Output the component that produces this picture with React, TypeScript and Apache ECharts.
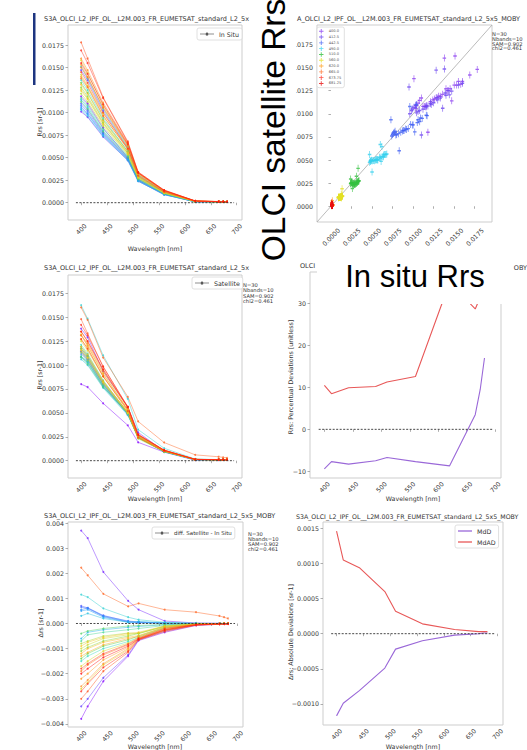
import React, { useEffect, useRef } from "react";
import * as echarts from "echarts";

// ---------------- DATA ----------------
const WAVELENGTHS = [400, 412.5, 442.5, 490, 510, 560, 620, 665, 673.75, 681.25];
const BAND_LABELS = ["400.0", "412.5", "442.5", "490.0", "510.0", "560.0", "620.0", "665.0", "673.75", "681.25"];
const WL_TICKS = [400, 450, 500, 550, 600, 650, 700];
const RRS_TICKS = [0, 0.0025, 0.005, 0.0075, 0.01, 0.0125, 0.015, 0.0175];
const PCT_TICKS = [-10, 0, 10, 20, 30];
const DIFF_TICKS = [-0.004, -0.003, -0.002, -0.001, 0, 0.001, 0.002, 0.003, 0.004];
const ABS_TICKS = [-0.001, -0.0005, 0, 0.0005, 0.001, 0.0015];

// in situ Rrs [sr-1], one row per match-up (N=30), one column per band
const IN_SITU: number[][] = [
  [0.0118, 0.0110, 0.0083, 0.0050, 0.0026, 0.00125, 0.00013, 0.0001, 0.0001, 0.0001],
  [0.0101, 0.0095, 0.0073, 0.0047, 0.0024, 0.0009, 0.0001, 0.0001, 0.0001, 0.0001],
  [0.0147, 0.0136, 0.0102, 0.0061, 0.0031, 0.00125, 0.00017, 0.00011, 0.0001, 0.0001],
  [0.0110, 0.0103, 0.0078, 0.0049, 0.0025, 0.00095, 0.00011, 0.0001, 0.0001, 0.0001],
  [0.0108, 0.0101, 0.0077, 0.0049, 0.0025, 0.00095, 0.00011, 0.0001, 0.0001, 0.0001],
  [0.0106, 0.0099, 0.0076, 0.0048, 0.0025, 0.00095, 0.00011, 0.0001, 0.0001, 0.0001],
  [0.0104, 0.0098, 0.0075, 0.0048, 0.0024, 0.0009, 0.00011, 0.0001, 0.0001, 0.0001],
  [0.0114, 0.0106, 0.0080, 0.0051, 0.0026, 0.0010, 0.00012, 0.0001, 0.0001, 0.0001],
  [0.0103, 0.0096, 0.0074, 0.0047, 0.0024, 0.0009, 0.0001, 0.0001, 0.0001, 0.0001],
  [0.0151, 0.0138, 0.0104, 0.0062, 0.0031, 0.00125, 0.00017, 0.00011, 0.0001, 0.0001],
  [0.0136, 0.0125, 0.0094, 0.0057, 0.0029, 0.00115, 0.00015, 0.0001, 0.0001, 0.0001],
  [0.0116, 0.0108, 0.0082, 0.0052, 0.0027, 0.00105, 0.00013, 0.0001, 0.0001, 0.0001],
  [0.0112, 0.0104, 0.0079, 0.0050, 0.0026, 0.0010, 0.00012, 0.0001, 0.0001, 0.0001],
  [0.0133, 0.0122, 0.0092, 0.0057, 0.0029, 0.00115, 0.00015, 0.0001, 0.0001, 0.0001],
  [0.0128, 0.0118, 0.0089, 0.0055, 0.0028, 0.0011, 0.00014, 0.0001, 0.0001, 0.0001],
  [0.0121, 0.0112, 0.0085, 0.0053, 0.0027, 0.00105, 0.00013, 0.0001, 0.0001, 0.0001],
  [0.0126, 0.0116, 0.0088, 0.0055, 0.0028, 0.0011, 0.00014, 0.0001, 0.0001, 0.0001],
  [0.0142, 0.0130, 0.0099, 0.0061, 0.0031, 0.00125, 0.00017, 0.00011, 0.0001, 0.0001],
  [0.0158, 0.0144, 0.0108, 0.0064, 0.0032, 0.0013, 0.00018, 0.00012, 0.00011, 0.00011],
  [0.0124, 0.0115, 0.0087, 0.0054, 0.0028, 0.0011, 0.00015, 0.0001, 0.0001, 0.0001],
  [0.0131, 0.0121, 0.0091, 0.0056, 0.0029, 0.00115, 0.00016, 0.00011, 0.0001, 0.0001],
  [0.0140, 0.0129, 0.0097, 0.0059, 0.0030, 0.0012, 0.00016, 0.00011, 0.0001, 0.0001],
  [0.0153, 0.0140, 0.0105, 0.0063, 0.0032, 0.0013, 0.00018, 0.00012, 0.00011, 0.0001],
  [0.0160, 0.0147, 0.0111, 0.0066, 0.0033, 0.00135, 0.00019, 0.00012, 0.00011, 0.00011],
  [0.0150, 0.0139, 0.0106, 0.0064, 0.0033, 0.0013, 0.00018, 0.00012, 0.00011, 0.0001],
  [0.0138, 0.0128, 0.0096, 0.0060, 0.0033, 0.00135, 0.00016, 0.00011, 0.0001, 0.0001],
  [0.0178, 0.0160, 0.0117, 0.0068, 0.0034, 0.0014, 0.0002, 0.00013, 0.00012, 0.00012],
  [0.0145, 0.0133, 0.0100, 0.0060, 0.0030, 0.0012, 0.00017, 0.00011, 0.0001, 0.0001],
  [0.0169, 0.0155, 0.0116, 0.0067, 0.0034, 0.0014, 0.0002, 0.00013, 0.00012, 0.00011],
  [0.0155, 0.0143, 0.0109, 0.0065, 0.0033, 0.00135, 0.00019, 0.00012, 0.00011, 0.0001],
];

// satellite - in situ differences [sr-1], same rows
const DIFF: number[][] = [
  [-0.0038, -0.0033, -0.0023, -0.0013, -0.00068, -0.00035, -0.00008, -0.00003, -0.00002, -0.00002],
  [0.0037, 0.0034, 0.00205, 0.0009, 0.00055, 0.0001, 0.00002, 0.00001, 0, 0],
  [-0.0033, -0.003, -0.00216, -0.00125, -0.00065, -0.0003, -0.00006, -0.00002, -0.00002, -0.00001],
  [0.0007, 0.00062, 0.00032, 0.00008, 0.00005, 0.00002, 0, 0, 0, 0],
  [0.00065, 0.0006, 0.00028, 0.00006, 0.00004, 0.00001, 0, 0, 0, 0],
  [0.00055, 0.00062, 0.0003, 0.0001, 0.00006, 0.00002, 0, 0, 0, 0],
  [0.0005, 0.00055, 0.00025, 0.00005, 0.00003, 0.00001, 0, 0, 0, 0],
  [-0.0006, -0.00035, -0.00025, -0.00015, -0.00012, -0.00005, -0.00001, 0, 0, 0],
  [0.0003, 0.0004, 0.0002, 0.00005, 0.00008, 0.00002, 0, 0, 0, 0],
  [0.00115, 0.00105, 0.0006, 0.00025, 0.00015, 0.00005, 0.00001, 0, 0, 0],
  [-0.0015, -0.0013, -0.001, -0.00072, -0.00055, -0.00018, -0.00003, -0.00001, -0.00001, 0],
  [-0.0007, -0.00045, -0.00035, -0.00025, -0.0002, -0.00008, -0.00001, 0, 0, 0],
  [-0.0004, -0.0003, -0.0002, -0.0001, -0.00008, -0.00004, -0.00001, 0, 0, 0],
  [-0.0014, -0.0012, -0.0009, -0.00065, -0.0005, -0.00015, -0.00003, -0.00001, 0, 0],
  [-0.0011, -0.00095, -0.0007, -0.0005, -0.0004, -0.00012, -0.00002, -0.00001, 0, 0],
  [-0.0008, -0.0007, -0.0005, -0.00038, -0.0004, -0.0001, -0.00002, 0, 0, 0],
  [-0.001, -0.00085, -0.0006, -0.00045, -0.00038, -0.00012, -0.00002, 0, 0, 0],
  [-0.0017, -0.0015, -0.0011, -0.00078, -0.00055, -0.00018, -0.00004, -0.00001, -0.00001, -0.00001],
  [-0.0026, -0.00235, -0.00165, -0.00105, -0.00063, -0.00027, -0.00005, -0.00002, -0.00001, -0.00001],
  [-0.0009, -0.00075, -0.00055, -0.0004, -0.00035, -0.0001, -0.00002, 0, 0, 0],
  [-0.0012, -0.001, -0.00075, -0.00055, -0.00048, -0.00014, -0.00003, -0.00001, 0, 0],
  [-0.0013, -0.00115, -0.00085, -0.0006, -0.00052, -0.00016, -0.00003, -0.00001, 0, 0],
  [-0.0022, -0.002, -0.00145, -0.00095, -0.0006, -0.00024, -0.00005, -0.00002, -0.00001, -0.00001],
  [-0.0025, -0.00225, -0.0016, -0.001, -0.00062, -0.00026, -0.00005, -0.00002, -0.00001, -0.00001],
  [-0.0019, -0.00165, -0.00125, -0.00085, -0.0006, -0.00022, -0.00004, -0.00001, -0.00001, -0.00001],
  [0.00222, 0.00192, 0.00118, 0.00068, 0.0008, 0.00055, 0.00045, 0.0003, 0.00025, 0.0002],
  [-0.003, -0.0027, -0.0019, -0.00115, -0.00066, -0.00032, -0.00007, -0.00003, -0.00002, -0.00002],
  [-0.0018, -0.0016, -0.0012, -0.00082, -0.00058, -0.0002, -0.00004, -0.00001, -0.00001, -0.00001],
  [-0.0027, -0.0024, -0.00175, -0.0011, -0.00064, -0.00028, -0.00006, -0.00002, -0.00002, -0.00001],
  [-0.002, -0.0018, -0.00135, -0.0009, -0.00062, -0.00025, -0.00005, -0.00002, -0.00001, -0.00001],
];

// statistics per band
const MDD_PCT = [-9.4, -7.7, -8.3, -7.5, -6.7, -7.7, -8.7, 3.5, 9.5, 17.0];
const MDAD_PCT = [10.5, 8.5, 9.9, 10.2, 11.3, 12.6, 35.0, 28.7, 31.5, 36.0];
const MDD_ABS = [-0.00117, -0.00099, -0.00081, -0.00049, -0.00022, -0.0001, -0.00002, 0, 0.00001, 0.00001];
const MDAD_ABS = [0.00146, 0.00105, 0.00094, 0.0006, 0.00032, 0.00014, 0.00006, 0.00003, 0.00003, 0.00003];

const TITLE_CLIPPED = "S3A_OLCI_L2_IPF_OL__L2M.003_FR_EUMETSAT_standard_L2_5x";
const TITLE_FULL = "S3A_OLCI_L2_IPF_OL__L2M.003_FR_EUMETSAT_standard_L2_5x5_MOBY";
const STATS_TEXT = "N=30\nNbands=10\nSAM=0.902\nchi2=0.461";

// ---------------- STYLE ----------------
const FONT = "DejaVu Sans";
const BIG_FONT = "Liberation Sans";
const BAND_COLORS = ["#8a3cf0", "#6a44f0", "#3d5cf2", "#34d0ee", "#34c040", "#e4e024", "#ffa020", "#ff6a20", "#ff3020", "#e81010"];
const STOPS = ["#8000ff", "#4a5cff", "#18a8f4", "#30d8c8", "#5cd040", "#cfdc28", "#f8c020", "#ff9020", "#ff5018", "#ff1010"];
const MDD_COLOR = "#9a68d8";
const MDAD_COLOR = "#e85858";
const PLUS = "path://M4,0h2v4h4v2h-4v4h-2v-4h-4v-2h4z";
const LINE_DOT_ICON = "path://M0,1.2h14v0.6h-14z M5.5,1.5a1.5,1.5 0 1,0 3,0a1.5,1.5 0 1,0 -3,0z";
const LINE_ICON = "path://M0,0h14v1.3h-14z";

function hexToRgb(h: string) {
  return [1, 3, 5].map((i) => parseInt(h.slice(i, i + 2), 16));
}
function paletteColor(t: number) {
  const p = t * (STOPS.length - 1);
  const i = Math.min(STOPS.length - 2, Math.floor(p));
  const f = p - i;
  const a = hexToRgb(STOPS[i]);
  const b = hexToRgb(STOPS[i + 1]);
  const c = a.map((v, k) => Math.round(v + (b[k] - v) * f));
  return `rgb(${c[0]},${c[1]},${c[2]})`;
}

const fmt = (d: number) => (v: number) => (v < 0 ? "\u2212" : "") + Math.abs(v).toFixed(d);
const small = { fontFamily: FONT, fontSize: 6.3, color: "#3a3a3a" };
const tick = { show: true, length: 2.5, lineStyle: { color: "#999", width: 0.8 } };

function wlAxis(gridIndex: number) {
  return {
    type: "value", gridIndex, min: 374.75, max: 710.25,
    axisLine: { show: false }, splitLine: { show: false },
    axisTick: { ...tick, customValues: WL_TICKS },
    axisLabel: { customValues: WL_TICKS, rotate: 45, align: "center", verticalAlign: "middle", margin: 9, ...small, formatter: (v: number) => String(v) },
  };
}
function valAxis(gridIndex: number, min: number, max: number, ticks: number[], dec: number, extra: any = {}) {
  return {
    type: "value", gridIndex, min, max,
    axisLine: { show: false }, splitLine: { show: false },
    axisTick: { ...tick, customValues: ticks },
    axisLabel: { customValues: ticks, margin: 4, ...small, formatter: fmt(dec), ...extra },
  };
}

function buildOption() {
  const grids = [
    { left: 68, top: 25, width: 174, height: 195 },
    { left: 317, top: 25, width: 175, height: 197 },
    { left: 68, top: 275, width: 174, height: 203 },
    { left: 310, top: 272, width: 191, height: 206 },
    { left: 68, top: 522, width: 175, height: 205 },
    { left: 323, top: 522, width: 180, height: 203 },
  ].map((g) => ({ ...g, show: true, borderColor: "#cdcdcd", borderWidth: 1, backgroundColor: "transparent" }));

  const xAxis = [
    wlAxis(0),
    valAxis(1, -0.0017, 0.0196, RRS_TICKS, 4, { rotate: 45, align: "center", verticalAlign: "middle", margin: 15 }),
    wlAxis(2), wlAxis(3), wlAxis(4), wlAxis(5),
  ];
  const yAxis = [
    valAxis(0, -0.00192, 0.01972, RRS_TICKS, 4),
    valAxis(1, -0.0017, 0.0196, RRS_TICKS, 4),
    valAxis(2, -0.00181, 0.01941, RRS_TICKS, 4),
    valAxis(3, -11.6, 37.5, PCT_TICKS, 0),
    valAxis(4, -0.00412, 0.00404, DIFF_TICKS, 3),
    valAxis(5, -0.0013, 0.00159, ABS_TICKS, 4),
  ];

  const series: any[] = [];
  const spectrum = (axis: number, rows: number[][], tag: string) => {
    rows.forEach((row, i) => {
      const color = paletteColor(i / (rows.length - 1));
      series.push({
        type: "line", name: `${tag}-${i}`, xAxisIndex: axis, yAxisIndex: axis,
        data: WAVELENGTHS.map((w, b) => [w, row[b]]),
        color, symbol: "circle", symbolSize: 2, silent: true,
        lineStyle: { width: 0.9, opacity: 0.5 }, itemStyle: { opacity: 0.7 }, z: 2,
      });
    });
  };
  const zeroLine = (axis: number) =>
    series.push({
      type: "line", xAxisIndex: axis, yAxisIndex: axis, data: [[390, 0], [695, 0]], symbol: "none", silent: true,
      lineStyle: { color: "#333", width: 0.9, type: [2, 1.5] }, z: 5,
    });

  const satellite = IN_SITU.map((row, i) => row.map((v, b) => v + DIFF[i][b]));

  spectrum(0, IN_SITU, "insitu");
  zeroLine(0);
  spectrum(2, satellite, "sat");
  zeroLine(2);
  spectrum(4, DIFF, "diff");
  zeroLine(4);

  // legend dummies
  series.push({ type: "line", name: "In Situ", xAxisIndex: 0, yAxisIndex: 0, data: [], color: "#222", symbol: "circle", symbolSize: 3, lineStyle: { width: 1 } });
  series.push({ type: "line", name: "Satellite", xAxisIndex: 2, yAxisIndex: 2, data: [], color: "#222", symbol: "circle", symbolSize: 3, lineStyle: { width: 1 } });
  series.push({ type: "line", name: "diff. Satellite - In Situ", xAxisIndex: 4, yAxisIndex: 4, data: [], color: "#222", symbol: "circle", symbolSize: 3, lineStyle: { width: 1 } });

  // scatter
  series.push({
    type: "line", xAxisIndex: 1, yAxisIndex: 1, data: [[-0.0017, -0.0017], [0.0196, 0.0196]], symbol: "none", silent: true,
    lineStyle: { color: "#aaa", width: 0.8 }, z: 1,
  });
  BAND_LABELS.forEach((name, b) => {
    series.push({
      type: "scatter", name, xAxisIndex: 1, yAxisIndex: 1,
      data: IN_SITU.map((row, i) => [row[b], satellite[i][b]]),
      symbol: PLUS, symbolSize: [3.5, 7], color: BAND_COLORS[b], itemStyle: { opacity: 0.8 }, z: 3,
    });
  });

  // percent deviations
  series.push({ type: "line", name: "MdD", xAxisIndex: 3, yAxisIndex: 3, data: WAVELENGTHS.map((w, b) => [w, MDD_PCT[b]]), color: MDD_COLOR, symbol: "none", lineStyle: { width: 1.1 } });
  series.push({ type: "line", name: "MdAD", xAxisIndex: 3, yAxisIndex: 3, data: WAVELENGTHS.map((w, b) => [w, MDAD_PCT[b]]), color: MDAD_COLOR, symbol: "none", lineStyle: { width: 1.1 } });
  zeroLine(3);
  // absolute deviations
  series.push({ type: "line", name: "MdD", xAxisIndex: 5, yAxisIndex: 5, data: WAVELENGTHS.map((w, b) => [w, MDD_ABS[b]]), color: MDD_COLOR, symbol: "none", lineStyle: { width: 1.1 } });
  series.push({ type: "line", name: "MdAD", xAxisIndex: 5, yAxisIndex: 5, data: WAVELENGTHS.map((w, b) => [w, MDAD_ABS[b]]), color: MDAD_COLOR, symbol: "none", lineStyle: { width: 1.1 } });
  zeroLine(5);

  const legendBase = {
    selectedMode: false, borderColor: "#d8d8d8", borderWidth: 0.8, borderRadius: 2, backgroundColor: "#fff",
    itemWidth: 14, itemHeight: 3, itemGap: 3, padding: [3, 3, 3, 3],
    textStyle: { fontFamily: FONT, fontSize: 6.3, color: "#333" },
  };
  const legend = [
    { ...legendBase, data: [{ name: "In Situ", icon: LINE_DOT_ICON }], left: 197, top: 28 },
    { ...legendBase, data: [{ name: "Satellite", icon: LINE_DOT_ICON }], left: 192, top: 277 },
    {
      ...legendBase, data: [{ name: "diff. Satellite - In Situ", icon: LINE_DOT_ICON }], left: 152, top: 527,
      textStyle: { ...legendBase.textStyle, fontSize: 5.5 },
    },
    {
      ...legendBase, data: [{ name: "MdD", icon: LINE_ICON }, { name: "MdAD", icon: LINE_ICON }],
      orient: "vertical", left: 455, top: 525, itemHeight: 1.3, itemGap: 5,
    },
    {
      ...legendBase, data: BAND_LABELS, orient: "vertical", left: 317, top: 27, itemWidth: 5, itemHeight: 4.5, itemGap: 1.3,
      padding: [2, 3, 2, 2], textStyle: { fontFamily: FONT, fontSize: 3.6, color: "#555" },
    },
  ];

  const txt = (x: number, y: number, text: string, extra: any = {}, rot = 0) => ({
    type: "text", x, y, rotation: rot, z: 50,
    style: { text, fontFamily: FONT, fontSize: 6.3, fill: "#333", align: "left", verticalAlign: "middle", ...extra },
  });
  const rotName = (x: number, y: number, text: string) => txt(x, y, text, { align: "center" }, Math.PI / 2);
  const TS = 6.5; // title font size

  const graphic = [
    { type: "rect", shape: { x: 33, y: 13, width: 2.5, height: 72 }, style: { fill: "#1d3580" }, z: 50 },
    txt(44, 19, TITLE_CLIPPED, { fontSize: TS }),
    txt(297, 19, "A_OLCI_L2_IPF_OL__L2M.003_FR_EUMETSAT_standard_L2_5x5_MOBY", { fontSize: TS }),
    txt(44, 268, TITLE_CLIPPED, { fontSize: TS }),
    txt(300, 266, "OLCI", { fontSize: TS }),
    txt(527, 268, "OBY", { fontSize: TS, align: "right" }),
    txt(44, 516, TITLE_FULL, { fontSize: TS }),
    txt(296, 516.5, TITLE_FULL, { fontSize: 6.25 }),
    txt(492, 31.5, STATS_TEXT, { fontSize: 5.2, lineHeight: 4.8, verticalAlign: "top" }),
    txt(243, 282.5, STATS_TEXT, { fontSize: 5.2, lineHeight: 5.3, verticalAlign: "top" }),
    txt(248, 531.5, STATS_TEXT, { fontSize: 5.2, lineHeight: 5.0, verticalAlign: "top" }),
    rotName(39, 122, "Rrs [sr-1]"),
    rotName(39, 375, "Rrs [sr-1]"),
    rotName(290, 377, "Rrs: Percentual Deviations [unitless]"),
    rotName(40, 623, "\u0394rs [sr-1]"),
    rotName(290, 632, "\u0394rs: Absolute Deviations [sr-1]"),
    txt(155, 248, "Wavelength [nm]", { align: "center" }),
    txt(155, 498, "Wavelength [nm]", { align: "center" }),
    txt(413, 498, "Wavelength [nm]", { align: "center" }),
    txt(155, 746, "Wavelength [nm]", { align: "center" }),
    txt(413, 746, "Wavelength [nm]", { align: "center" }),
    // big annotations on white boxes
    { type: "rect", shape: { x: 250, y: 0, width: 46, height: 256 }, style: { fill: "#fff" }, z: 80 },
    {
      type: "text", x: 273, y: 130, rotation: Math.PI / 2, z: 90,
      style: { text: "OLCI satellite Rrs", fontFamily: BIG_FONT, fontSize: 33.5, fill: "#000", align: "center", verticalAlign: "middle" },
    },
    { type: "rect", shape: { x: 317, y: 258, width: 195, height: 46 }, style: { fill: "#fff" }, z: 80 },
    {
      type: "text", x: 415, y: 276, z: 90,
      style: { text: "In situ Rrs", fontFamily: BIG_FONT, fontSize: 31, fill: "#000", align: "center", verticalAlign: "middle" },
    },
  ];

  return {
    animation: false,
    backgroundColor: "#fff",
    textStyle: { fontFamily: FONT },
    grid: grids,
    xAxis,
    yAxis,
    legend,
    series,
    graphic: { elements: graphic },
  };
}

export default function App() {
  const ref = useRef<HTMLDivElement>(null);
  useEffect(() => {
    const chart = echarts.init(ref.current!, null, { renderer: "svg" });
    chart.setOption(buildOption() as any);
    return () => chart.dispose();
  }, []);
  return (
    <div
      ref={ref}
      style={{ position: "absolute", left: 0, top: 0, width: 527, height: 750, background: "#fff" }}
    />
  );
}
